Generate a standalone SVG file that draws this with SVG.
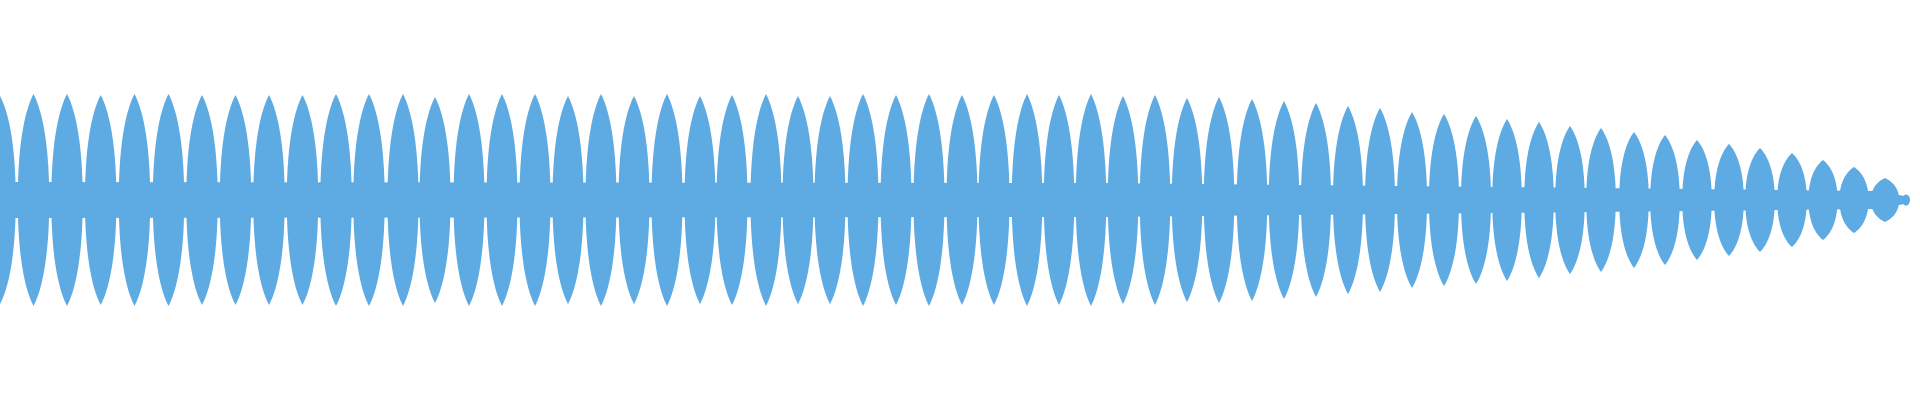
<svg xmlns="http://www.w3.org/2000/svg" width="1920" height="400" viewBox="0 0 1920 400">
<defs>
<style>.w{fill:#5DABE2}</style>
<path id="L" d="M-0.47,0 C-0.47,-0.6 -0.2,-0.88 0,-1 C0.2,-0.88 0.47,-0.6 0.47,0 C0.47,0.6 0.2,0.88 0,1 C-0.2,0.88 -0.47,0.6 -0.47,0Z"/>
</defs>
<rect width="1920" height="400" fill="#ffffff"/>
<g id="waveform" class="w">
<polygon points="0,182 1100,183 1880,191 1904,196 1904,204 1880,209 1100,217 0,218"/>
<use href="#L" transform="translate(0,200) scale(33.5,104)"/>
<use href="#L" transform="translate(33.5,200) scale(33.5,106)"/>
<use href="#L" transform="translate(67,200) scale(33.5,106)"/>
<use href="#L" transform="translate(100.7,200) scale(33.5,105)"/>
<use href="#L" transform="translate(134.5,200) scale(33.5,106)"/>
<use href="#L" transform="translate(168.5,200) scale(33.5,106)"/>
<use href="#L" transform="translate(202,200) scale(33.5,105)"/>
<use href="#L" transform="translate(235.5,200) scale(33.5,105)"/>
<use href="#L" transform="translate(269,200) scale(33.5,105)"/>
<use href="#L" transform="translate(302.5,200) scale(33.5,105)"/>
<use href="#L" transform="translate(336,200) scale(33.5,106)"/>
<use href="#L" transform="translate(369,200) scale(33.5,106)"/>
<use href="#L" transform="translate(403,200) scale(33,106)"/>
<use href="#L" transform="translate(435,200) scale(33,103)"/>
<use href="#L" transform="translate(469,200) scale(33,106)"/>
<use href="#L" transform="translate(502,200) scale(33,106)"/>
<use href="#L" transform="translate(535,200) scale(33,106)"/>
<use href="#L" transform="translate(568,200) scale(33,104)"/>
<use href="#L" transform="translate(601,200) scale(33,106)"/>
<use href="#L" transform="translate(634,200) scale(33,104)"/>
<use href="#L" transform="translate(667,200) scale(33,106)"/>
<use href="#L" transform="translate(700,200) scale(33,104)"/>
<use href="#L" transform="translate(732,200) scale(33,105)"/>
<use href="#L" transform="translate(766,200) scale(33,106)"/>
<use href="#L" transform="translate(798,200) scale(33,104)"/>
<use href="#L" transform="translate(830,200) scale(33,104)"/>
<use href="#L" transform="translate(863,200) scale(33,106)"/>
<use href="#L" transform="translate(896,200) scale(33,105)"/>
<use href="#L" transform="translate(929,200) scale(33,106)"/>
<use href="#L" transform="translate(962,200) scale(33,105)"/>
<use href="#L" transform="translate(994,200) scale(33,105)"/>
<use href="#L" transform="translate(1027,200) scale(32.5,106)"/>
<use href="#L" transform="translate(1059,200) scale(32.5,105)"/>
<use href="#L" transform="translate(1091,200) scale(32.5,106)"/>
<use href="#L" transform="translate(1123,200) scale(32.5,104)"/>
<use href="#L" transform="translate(1155,200) scale(32.5,105)"/>
<use href="#L" transform="translate(1187,200) scale(32.5,102)"/>
<use href="#L" transform="translate(1219,200) scale(32.5,103)"/>
<use href="#L" transform="translate(1252,200) scale(32.5,101)"/>
<use href="#L" transform="translate(1284,200) scale(32.5,99)"/>
<use href="#L" transform="translate(1316,200) scale(32,97)"/>
<use href="#L" transform="translate(1348,200) scale(32,94)"/>
<use href="#L" transform="translate(1380,200) scale(32,92)"/>
<use href="#L" transform="translate(1412,200) scale(32,88)"/>
<use href="#L" transform="translate(1444,200) scale(32,86)"/>
<use href="#L" transform="translate(1476,200) scale(32,84)"/>
<use href="#L" transform="translate(1507,200) scale(31.5,81)"/>
<use href="#L" transform="translate(1539,200) scale(31.5,78)"/>
<use href="#L" transform="translate(1570,200) scale(31.5,74)"/>
<use href="#L" transform="translate(1601,200) scale(31.5,72)"/>
<use href="#L" transform="translate(1634,200) scale(31.5,68)"/>
<use href="#L" transform="translate(1665,200) scale(31.5,65)"/>
<use href="#L" transform="translate(1697,200) scale(31.5,60)"/>
<use href="#L" transform="translate(1729,200) scale(31.5,56)"/>
<use href="#L" transform="translate(1760,200) scale(31.5,52)"/>
<use href="#L" transform="translate(1792,200) scale(31.5,47)"/>
<use href="#L" transform="translate(1823,200) scale(31,40)"/>
<use href="#L" transform="translate(1854,200) scale(31,33)"/>
<use href="#L" transform="translate(1885,200) scale(30,22)"/>
<ellipse cx="1906" cy="200" rx="4" ry="5.5"/>
</g>
</svg>
